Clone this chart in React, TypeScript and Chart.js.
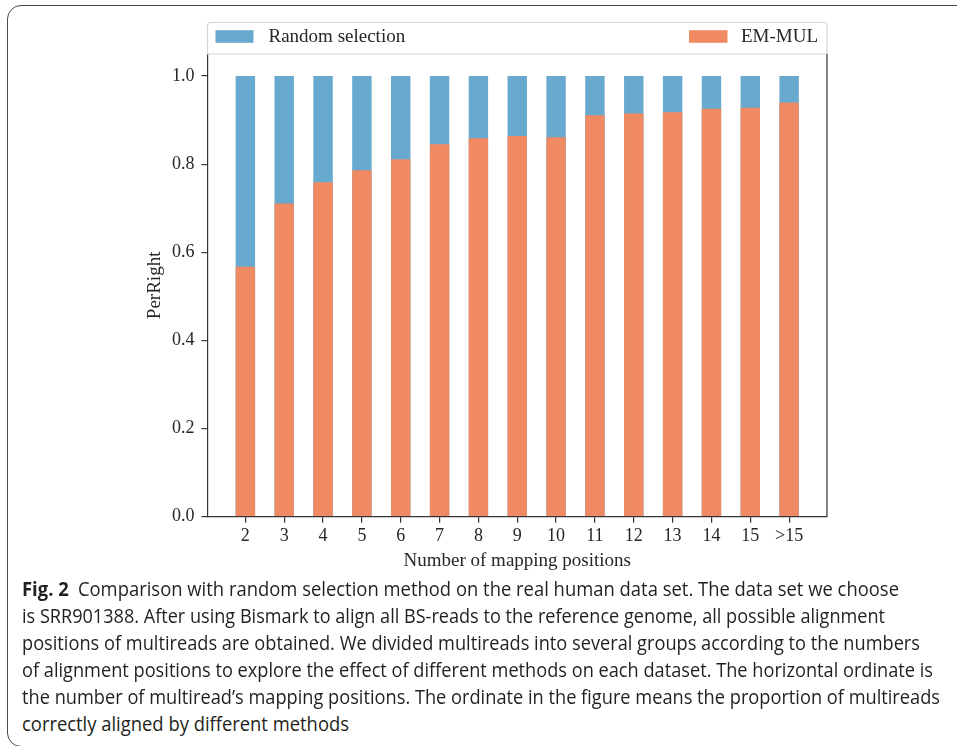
import React, { useEffect, useLayoutEffect, useRef } from "react";
import { Chart, registerables } from "chart.js";

Chart.register(...registerables);

// Number of mapping positions (x categories)
const categories = ["2", "3", "4", "5", "6", "7", "8", "9", "10", "11", "12", "13", "14", "15", ">15"];
// Proportion correctly aligned by EM-MUL
const emMul = [0.567, 0.711, 0.759, 0.786, 0.811, 0.845, 0.859, 0.864, 0.861, 0.911, 0.915, 0.918, 0.926, 0.928, 0.94];
// Random selection bar heights
const randomSelection = [1.0, 1.0, 1.0, 1.0, 1.0, 1.0, 1.0, 1.0, 1.0, 1.0, 1.0, 1.0, 1.0, 1.0, 1.0];
// y tick values
const yTicks = [0, 0.2, 0.4, 0.6, 0.8, 1.0];

const BLUE = "#67a9cf";
const ORANGE = "#ef8a62";
const INK = "#262626";
const SERIF = '"Liberation Serif", "Times New Roman", serif';

const captionBold = "Fig. 2";
const captionLines = [
  "Comparison with random selection method on the real human data set. The data set we choose",
  "is SRR901388. After using Bismark to align all BS-reads to the reference genome, all possible alignment",
  "positions of multireads are obtained. We divided multireads into several groups according to the numbers",
  "of alignment positions to explore the effect of different methods on each dataset. The horizontal ordinate is",
  "the number of multiread\u2019s mapping positions. The ordinate in the figure means the proportion of multireads",
  "correctly aligned by different methods",
];
const captionWidths = [877, 863, 898, 911, 918, 327];

// Legend drawn as a full-width box above the plot, items at the two ends
const legendPlugin = {
  id: "topLegend",
  afterDraw(chart: any) {
    const { ctx, chartArea } = chart;
    const x0 = chartArea.left;
    const x1 = chartArea.right;
    const y0 = 22.5;
    const y1 = chartArea.top;
    ctx.save();
    // legend frame
    ctx.beginPath();
    const r = 3;
    ctx.moveTo(x0 + r, y0);
    ctx.lineTo(x1 - r, y0);
    ctx.quadraticCurveTo(x1, y0, x1, y0 + r);
    ctx.lineTo(x1, y1);
    ctx.lineTo(x0, y1);
    ctx.lineTo(x0, y0 + r);
    ctx.quadraticCurveTo(x0, y0, x0 + r, y0);
    ctx.closePath();
    ctx.fillStyle = "#ffffff";
    ctx.fill();
    ctx.strokeStyle = "#d6d6d6";
    ctx.lineWidth = 1.2;
    ctx.stroke();

    const cy = 36.5;
    ctx.fillStyle = BLUE;
    ctx.fillRect(x0 + 8, cy - 6.3, 38, 12.6);
    ctx.fillStyle = ORANGE;
    ctx.fillRect(x1 - 138, cy - 6.3, 38.5, 12.6);

    ctx.fillStyle = INK;
    ctx.font = `19px ${SERIF}`;
    ctx.textBaseline = "middle";
    ctx.textAlign = "left";
    ctx.fillText("Random selection", x0 + 61, cy + 1);
    ctx.textAlign = "right";
    ctx.fillText("EM-MUL", x1 - 9, cy + 1);

    // right spine of the axes box
    ctx.beginPath();
    ctx.strokeStyle = "#333333";
    ctx.lineWidth = 1.2;
    ctx.moveTo(chartArea.right, chartArea.top);
    ctx.lineTo(chartArea.right, chartArea.bottom);
    ctx.stroke();
    ctx.restore();
  },
};

function BarChart() {
  const ref = useRef<HTMLCanvasElement | null>(null);

  useEffect(() => {
    if (!ref.current) return;
    const chart = new Chart(ref.current, {
      type: "bar",
      data: {
        datasets: [
          {
            label: "Random selection",
            data: categories.map((_, i) => ({ x: i, y: randomSelection[i] })),
            backgroundColor: BLUE,
            order: 2,
          },
          {
            label: "EM-MUL",
            data: categories.map((_, i) => ({ x: i, y: emMul[i] })),
            backgroundColor: ORANGE,
            order: 1,
          },
        ],
      },
      options: {
        responsive: false,
        animation: false,
        events: [],
        layout: { padding: { top: 54, right: 130, bottom: 0, left: 0 } },
        datasets: {
          bar: { grouped: false, categoryPercentage: 1, barPercentage: 0.5 },
        },
        plugins: {
          legend: { display: false },
          tooltip: { enabled: false },
        },
        scales: {
          x: {
            type: "linear",
            min: -0.975,
            max: 14.975,
            offset: false,
            afterBuildTicks: (scale: any) => {
              scale.ticks = categories.map((_, i) => ({ value: i }));
            },
            afterFit: (scale: any) => {
              scale.height = 63.3;
            },
            ticks: {
              autoSkip: false,
              maxRotation: 0,
              padding: 3,
              color: INK,
              font: { family: SERIF, size: 18 },
              callback: (v: any) => categories[Math.round(Number(v))] ?? "",
            },
            grid: {
              offset: false,
              drawOnChartArea: false,
              drawTicks: true,
              tickLength: 6,
              color: "#333333",
              lineWidth: 1.2,
            },
            border: { display: true, color: "#333333", width: 1.2 },
            title: {
              display: true,
              text: "Number of mapping positions",
              color: INK,
              font: { family: SERIF, size: 19 },
              padding: { top: 0, bottom: 7.6 },
            },
          },
          y: {
            type: "linear",
            min: 0,
            max: 1.05,
            afterBuildTicks: (scale: any) => {
              scale.ticks = yTicks.map((v) => ({ value: v }));
            },
            afterFit: (scale: any) => {
              scale.width = 207.5;
            },
            ticks: {
              padding: 7,
              color: INK,
              font: { family: SERIF, size: 18 },
              callback: (v: any) => Number(v).toFixed(1),
            },
            grid: {
              drawOnChartArea: false,
              drawTicks: true,
              tickLength: 6,
              color: "#333333",
              lineWidth: 1.2,
            },
            border: { display: true, color: "#333333", width: 1.2 },
            title: {
              display: true,
              text: "PerRight",
              color: INK,
              font: { family: SERIF, size: 19 },
              padding: { top: 143.6, bottom: 0 },
            },
          },
        },
      } as any,
      plugins: [legendPlugin],
    });
    return () => chart.destroy();
  }, []);

  return (
    <canvas
      ref={ref}
      width={957}
      height={580}
      style={{ position: "absolute", left: 0, top: 0, width: 957, height: 580 }}
    />
  );
}

function Caption() {
  const refs = useRef<(HTMLDivElement | null)[]>([]);

  useLayoutEffect(() => {
    refs.current.forEach((el, i) => {
      if (!el) return;
      el.style.transform = "none";
      const w = el.getBoundingClientRect().width;
      if (w > 0) el.style.transform = `scaleX(${captionWidths[i] / w})`;
    });
  }, []);

  return (
    <>
      {captionLines.map((line, i) => (
        <div
          key={i}
          ref={(el) => {
            refs.current[i] = el;
          }}
          style={{
            position: "absolute",
            left: 22,
            top: 596 + i * 27 - 21.4,
            whiteSpace: "nowrap",
            display: "inline-block",
            transformOrigin: "0 0",
            fontFamily: '"Open Sans", "Noto Sans", sans-serif',
            fontSize: 20,
            lineHeight: "27px",
            color: "#231f20",
          }}
        >
          {i === 0 && (
            <span style={{ fontWeight: 700, marginRight: 10 }}>{captionBold}</span>
          )}
          {line}
        </div>
      ))}
    </>
  );
}

export default function App() {
  return (
    <div
      style={{
        position: "fixed",
        left: 0,
        top: 0,
        width: 957,
        height: 746,
        overflow: "hidden",
        background: "#ffffff",
      }}
    >
      <div
        style={{
          position: "absolute",
          left: 7,
          top: 5,
          width: 990,
          height: 742,
          border: "1.5px solid #4a4a4a",
          borderRadius: 14,
          boxSizing: "border-box",
        }}
      />
      <BarChart />
      <Caption />
    </div>
  );
}
